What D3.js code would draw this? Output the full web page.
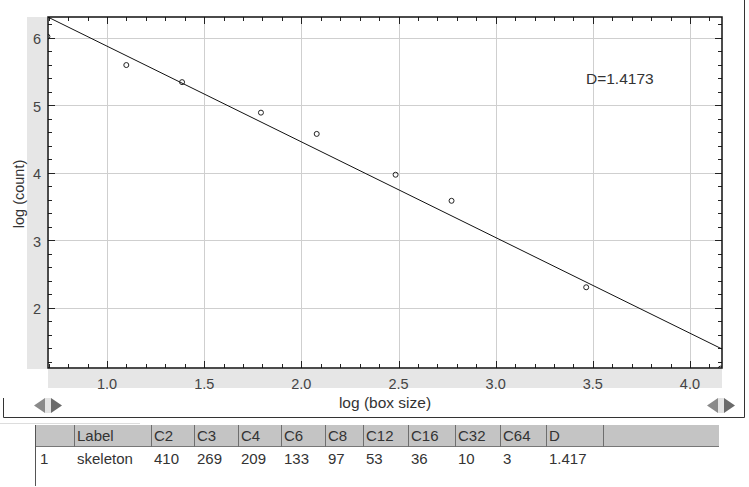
<!DOCTYPE html>
<meta charset="utf-8">
<style>
html, body { margin: 0; background: #fff; }
svg { display: block; font-family: "Liberation Sans", Arial, sans-serif; }
.grid line { stroke: #cfcfcf; stroke-width: 1; }
.tick-label { font-size: 14.5px; fill: #444; }
.cell { font-size: 15px; fill: #333; }
</style>
<body>
<svg id="chart" width="749" height="487"></svg>
</body>
<script src="https://cdn.jsdelivr.net/npm/d3@7"></script>
<script>

// points: log(box size), log(count)
var logSize  = [0.693, 1.099, 1.386, 1.792, 2.079, 2.485, 2.773, 3.466, 4.159]
var logCount = [6.016, 5.595, 5.342, 4.890, 4.575, 3.970, 3.584, 2.303, 1.099]

// fitted line, slope = -D
var fitSlope = -1.4173
var fitIntercept = 7.2917
var dLabel = "D=1.4173"

var xTicks = [1.0, 1.5, 2.0, 2.5, 3.0, 3.5, 4.0]
var yTicks = [2, 3, 4, 5, 6]

// table under the chart
var tableHeaders = ["", "Label", "C2", "C3", "C4", "C6", "C8", "C12", "C16", "C32", "C64", "D", ""]
var tableRow     = ["1", "skeleton", "410", "269", "209", "133", "97", "53", "36", "10", "3", "1.417", ""]
var colEdges = [35, 74, 151, 194, 238, 281, 325, 363, 408, 455, 500, 546, 603, 719]

var svg = d3.select("#chart")

var plot = { left: 48, top: 17, right: 722, bottom: 368 }

var x = d3.scaleLinear().domain([0.696, 4.165]).range([plot.left, plot.right])
var y = d3.scaleLinear().domain([1.107, 6.307]).range([plot.bottom, plot.top])

/* gray label strips */
svg.append("rect")
  .attr("x", 27).attr("y", plot.top)
  .attr("width", plot.left - 27 - 1).attr("height", plot.bottom - plot.top + 1)
  .attr("fill", "#e6e6e6")
svg.append("rect")
  .attr("x", plot.left).attr("y", plot.bottom + 1)
  .attr("width", plot.right - plot.left).attr("height", 19)
  .attr("fill", "#e6e6e6")

/* grid */
var grid = svg.append("g").attr("class", "grid")
grid.selectAll(".gx").data(xTicks).enter().append("line")
  .attr("x1", function(d) { return Math.round(x(d)) + 0.5 })
  .attr("x2", function(d) { return Math.round(x(d)) + 0.5 })
  .attr("y1", plot.top).attr("y2", plot.bottom)
grid.selectAll(".gy").data(yTicks).enter().append("line")
  .attr("y1", function(d) { return Math.round(y(d)) + 0.5 })
  .attr("y2", function(d) { return Math.round(y(d)) + 0.5 })
  .attr("x1", plot.left).attr("x2", plot.right)

/* inner ticks on all four sides */
var xMinor = d3.range(7, 42).map(function(i) { return i / 10 })
var yMinor = d3.range(6, 32).map(function(i) { return i / 5 })

var ticks = svg.append("g").attr("stroke", "#222").attr("stroke-width", 1)
function isMajorX(v) { return Math.abs(v * 2 - Math.round(v * 2)) < 1e-6 }
function isMajorY(v) { return Math.abs(v - Math.round(v)) < 1e-6 }

xMinor.forEach(function(v) {
  var px = Math.round(x(v)) + 0.5
  var len = isMajorX(v) ? 7 : 4
  ticks.append("line").attr("x1", px).attr("x2", px).attr("y1", plot.bottom).attr("y2", plot.bottom - len)
  ticks.append("line").attr("x1", px).attr("x2", px).attr("y1", plot.top).attr("y2", plot.top + len)
})
yMinor.forEach(function(v) {
  var py = Math.round(y(v)) + 0.5
  var len = isMajorY(v) ? 7 : 4
  ticks.append("line").attr("y1", py).attr("y2", py).attr("x1", plot.left).attr("x2", plot.left + len)
  ticks.append("line").attr("y1", py).attr("y2", py).attr("x1", plot.right).attr("x2", plot.right - len)
})

/* tick labels */
svg.selectAll(".xl").data(xTicks).enter().append("text")
  .attr("class", "tick-label")
  .attr("x", function(d) { return x(d) })
  .attr("y", plot.bottom + 21)
  .attr("text-anchor", "middle")
  .text(function(d) { return d.toFixed(1) })
svg.selectAll(".yl").data(yTicks).enter().append("text")
  .attr("class", "tick-label")
  .attr("x", 37)
  .attr("y", function(d) { return y(d) + 6.5 })
  .attr("text-anchor", "middle")
  .text(function(d) { return d })

/* clipped data layer */
svg.append("clipPath").attr("id", "clip")
  .append("rect")
  .attr("x", plot.left).attr("y", plot.top)
  .attr("width", plot.right - plot.left).attr("height", plot.bottom - plot.top)

var layer = svg.append("g").attr("clip-path", "url(#clip)")

var xDom = x.domain()
layer.append("line")
  .attr("x1", x(xDom[0])).attr("y1", y(fitIntercept + fitSlope * xDom[0]))
  .attr("x2", x(xDom[1])).attr("y2", y(fitIntercept + fitSlope * xDom[1]))
  .attr("stroke", "#111").attr("stroke-width", 1)

layer.selectAll("circle").data(logSize).enter().append("circle")
  .attr("cx", function(d) { return x(d) })
  .attr("cy", function(d, i) { return y(logCount[i]) })
  .attr("r", 2.5)
  .attr("fill", "none").attr("stroke", "#222").attr("stroke-width", 1)

/* plot frame */
svg.append("rect")
  .attr("x", plot.left).attr("y", plot.top)
  .attr("width", plot.right - plot.left).attr("height", plot.bottom - plot.top)
  .attr("fill", "none").attr("stroke", "#111").attr("stroke-width", 1.5)

svg.append("text")
  .attr("x", 586).attr("y", 84)
  .attr("font-size", 15.5).attr("fill", "#333")
  .text(dLabel)

/* axis titles */
svg.append("text")
  .attr("transform", "translate(24,194) rotate(-90)")
  .attr("text-anchor", "middle")
  .attr("font-size", 14.5).attr("fill", "#333")
  .text("log (count)")
svg.append("text")
  .attr("x", 385).attr("y", 408)
  .attr("text-anchor", "middle")
  .attr("font-size", 15.5).attr("fill", "#333")
  .text("log (box size)")

/* outer panel border */
svg.append("path")
  .attr("d", "M3.5,398V417.5H744.5V0")
  .attr("fill", "none").attr("stroke", "#333").attr("stroke-width", 1)

/* scroll arrows */
function arrows(x0) {
  var g = svg.append("g").attr("transform", "translate(" + x0 + ",398)")
  g.append("rect").attr("x", 11).attr("y", 0).attr("width", 6).attr("height", 15).attr("fill", "#e4e4e4")
  g.append("path").attr("d", "M0,7.5L11,0V15Z").attr("fill", "#8a8a8a")
  g.append("path").attr("d", "M17,0L28,7.5L17,15Z").attr("fill", "#6a6a6a")
}
arrows(34)
arrows(707)

/* table */
svg.append("line").attr("x1", 0).attr("x2", 140).attr("y1", 423.5).attr("y2", 423.5)
  .attr("stroke", "#ddd")

var table = svg.append("g")
table.append("rect")
  .attr("x", colEdges[0]).attr("y", 425)
  .attr("width", colEdges[colEdges.length - 1] - colEdges[0]).attr("height", 22)
  .attr("fill", "#c4c4c4")
table.append("line")
  .attr("x1", colEdges[0]).attr("x2", colEdges[colEdges.length - 1])
  .attr("y1", 446.5).attr("y2", 446.5).attr("stroke", "#777")

colEdges.slice(1, colEdges.length - 1).forEach(function(cx) {
  table.append("line")
    .attr("x1", cx + 0.5).attr("x2", cx + 0.5)
    .attr("y1", 425).attr("y2", 447)
    .attr("stroke", "#6e6e6e")
})
table.append("line")
  .attr("x1", colEdges[0] + 0.5).attr("x2", colEdges[0] + 0.5)
  .attr("y1", 425).attr("y2", 486).attr("stroke", "#555")

tableHeaders.forEach(function(h, i) {
  table.append("text").attr("class", "cell")
    .attr("x", colEdges[i] + 3).attr("y", 441)
    .text(h)
})
tableRow.forEach(function(v, i) {
  table.append("text").attr("class", "cell")
    .attr("x", colEdges[i] + (i === 0 ? 5 : 3)).attr("y", 464)
    .text(v)
})

</script>
